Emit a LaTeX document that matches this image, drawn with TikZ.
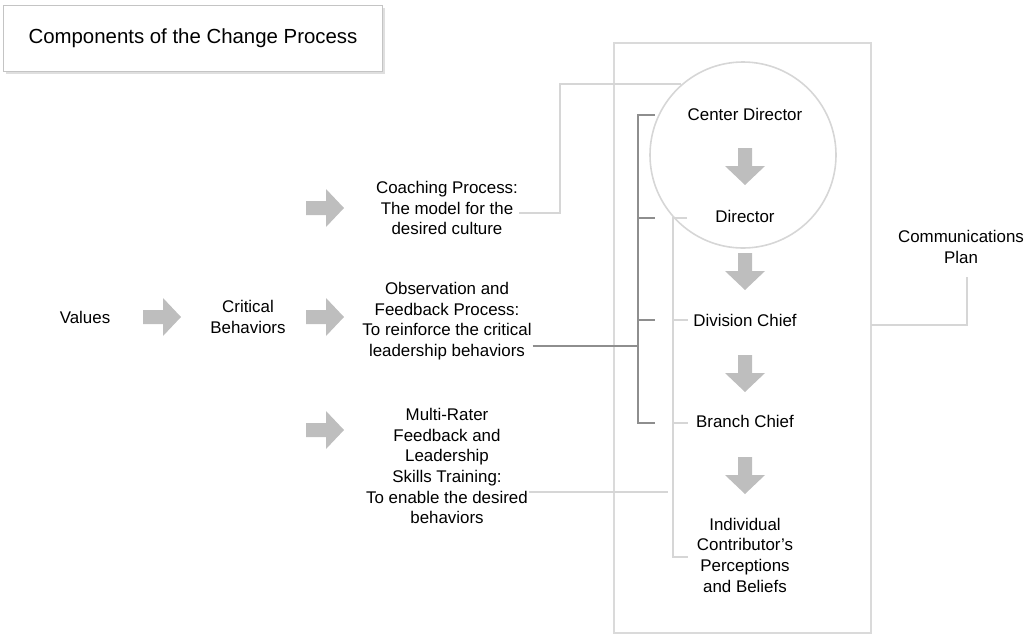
\documentclass[tikz,border=0pt]{standalone}
\usepackage{fontspec}
\setmainfont{Liberation Sans}
\usetikzlibrary{shadows}
\definecolor{faintgray}{HTML}{D6D6D6}
\definecolor{bracketgray}{HTML}{8E8E8E}
\definecolor{arrowgray}{HTML}{BEBEBE}
\definecolor{boxgray}{HTML}{C4C4C4}

\tikzset{
  lbl/.style={align=center,font=\fontsize{16.9}{20.7}\selectfont,inner sep=1pt},
  faint/.style={draw=faintgray,line width=1.6pt},
  bracket/.style={draw=bracketgray,line width=2.2pt},
  rblock/.pic={\fill[arrowgray] (-19,-7) -- (1,-7) -- (1,-19) -- (19,0) -- (1,19) -- (1,7) -- (-19,7) -- cycle;},
  dblock/.pic={\fill[arrowgray] (-7,-19) -- (-7,-1) -- (-20,-1) -- (0,18) -- (20,-1) -- (7,-1) -- (7,-19) -- cycle;}
}

\begin{document}
\begin{tikzpicture}[x=1pt,y=-1pt]
\useasboundingbox (0,0) rectangle (1033,638);
% title
\node[draw=boxgray,line width=1pt,fill=white,minimum width=379pt,minimum height=66pt,
      drop shadow={opacity=0.25,shadow xshift=2pt,shadow yshift=-3pt},
      font=\fontsize{20.4}{24}\selectfont] (title) at (193,38) {Components of the Change Process};

% frame and circle
\draw[faint,draw=faintgray!90] (614,43) rectangle (871,633);
\node[circle,faint,minimum size=186pt] (circ) at (743,155) {};

% left column
\node[lbl] (vals) at (85,317) {Values};
\node[lbl] (crit) at (248,317) {Critical\\Behaviors};
\pic at (162,317) {rblock};
\pic at (325,208) {rblock};
\pic at (325,317) {rblock};
\pic at (325,430) {rblock};

\node[lbl] (coach) at (447,208) {Coaching Process:\\The model for the\\desired culture};
\node[lbl] (obs) at (447,321) {Observation and\\Feedback Process:\\To reinforce the critical\\leadership behaviors};
\node[lbl] (multi) at (447,466) {Multi-Rater\\Feedback and\\Leadership\\Skills Training:\\To enable the desired\\behaviors};

% right column
\node[lbl] (cdir) at (745,114) {Center Director};
\node[lbl] (dir) at (745,216) {Director};
\node[lbl] (div) at (745,320) {Division Chief};
\node[lbl] (branch) at (745,421) {Branch Chief};
\node[lbl] (indiv) at (745,555) {Individual\\Contributor's\\Perceptions\\and Beliefs};
\pic at (745,167) {dblock};
\pic at (745,272) {dblock};
\pic at (745,374) {dblock};
\pic at (745,476) {dblock};

\node[lbl] (comm) at (961,247) {Communications\\Plan};

% connectors
\draw[faint] (coach.east |- {(0,213)}) -- (560,213) |- (circ.131);
\draw[bracket] (655,115) -- (638,115) -- (638,423) -- (655,423);
\draw[bracket] (638,218) -- (655,218);
\draw[bracket] (638,320) -- (655,320);
\draw[bracket] (obs.east |- {(0,346)}) -- (638,346);
\draw[faint] (687,218) -- (673,218) -- (673,557) -- (688,557);
\draw[faint] (673,320) -- (688,320);
\draw[faint] (673,423) -- (688,423);
\draw[faint] (multi.east |- {(0,492)}) -- (668,492);
\draw[faint] (871,325) -| (967,277);
\end{tikzpicture}
\end{document}
